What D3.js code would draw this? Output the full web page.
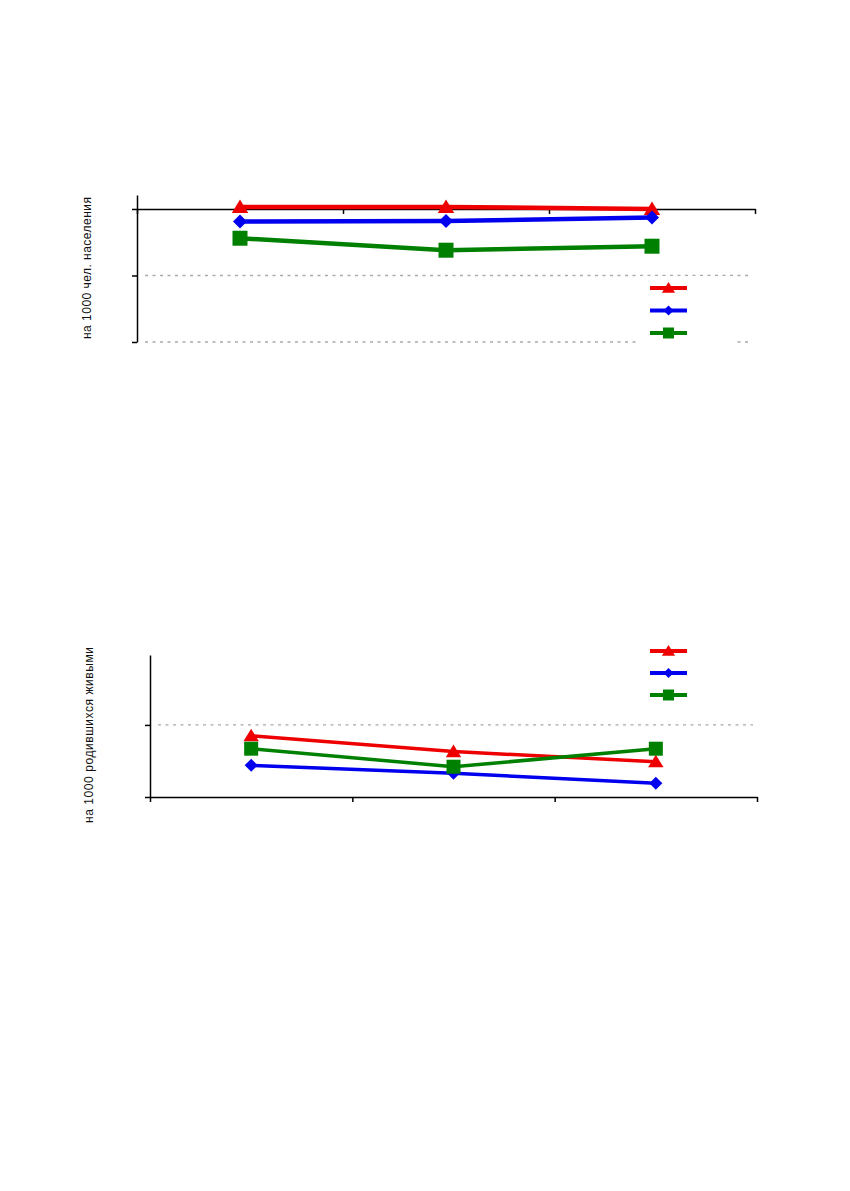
<!DOCTYPE html>
<html>
<head>
<meta charset="utf-8">
<title>Charts</title>
<style>
body { margin: 0; background: #fff; font-family: "Liberation Sans", Arial, sans-serif; }
</style>
</head>
<body>
<div id="chart"></div>
<script src="https://d3js.org/d3.v7.min.js"></script>
<script>
// categories (labels not shown in the picture)
const years = ["A", "B", "C"];

// chart 1: на 1000 чел. населения
const top1Red = [0.15, 0.15, 0.0];
const top1Blue = [-0.95, -0.9, -0.65];
const top1Green = [-2.2, -3.1, -2.8];
const top1Ticks = [-10, -5, 0];

// chart 2: на 1000 родившихся живыми
const bot2Red = [8.5, 6.3, 4.9];
const bot2Blue = [4.4, 3.3, 1.9];
const bot2Green = [6.7, 4.2, 6.7];
const bot2Ticks = [0, 10];

const width = 850;
const height = 1191;

const svg = d3.select("#chart")
  .append("svg")
  .attr("width", width)
  .attr("height", height);

svg.append("rect")
    .attr("width", width)
    .attr("height", height)
    .attr("fill", "#fff");

const RED = "#ee0000", BLUE = "#0000ee", GREEN = "#008000";

// s = half size of marker
function marker(g, type, x, y, s, color) {
  let d;
  if (type === "tri") d = `M0,${-s}L${s * 1.1},${s * 0.8}L${-s * 1.1},${s * 0.8}Z`;
  else if (type === "dia") d = `M0,${-s}L${s},0L0,${s}L${-s},0Z`;
  else d = `M${-s},${-s}H${s}V${s}H${-s}Z`;
  g.append("path")
    .attr("d", d)
    .attr("transform", `translate(${x},${y})`)
    .attr("fill", color);
}

function drawChart(opt) {
  const g = svg.append("g");
  const x = d3.scaleBand().domain(years).range([opt.x0, opt.x1]);
  const y = d3.scaleLinear().domain(opt.domain).range([opt.yBottom, opt.yTop]);

  // dotted gridlines
  opt.grid.forEach(v => {
    g.append("line")
      .attr("x1", opt.x0 + 8).attr("x2", opt.x1 - 4)
      .attr("y1", y(v)).attr("y2", y(v))
      .attr("stroke", "#aaaaaa")
      .attr("stroke-width", 1.3)
      .attr("stroke-dasharray", "3,4.5");
  });

  // legend box (blank labels)
  const leg = g.append("g").attr("transform", `translate(${opt.legX},${opt.legY})`);
  leg.append("rect")
    .attr("x", -10).attr("y", -12)
    .attr("width", 97).attr("height", 70)
    .attr("fill", "#fff");

  // y axis
  const yAxis = d3.axisLeft(y).tickValues(opt.ticks).tickSize(5).tickSizeOuter(0).tickFormat("");
  g.append("g")
    .attr("transform", `translate(${opt.x0},0)`)
    .call(yAxis)
    .call(s => s.select(".domain").attr("stroke", "#000").attr("stroke-width", 1.5))
    .call(s => s.selectAll(".tick line").attr("stroke", "#000").attr("stroke-width", 1.5));

  // x axis
  const xPos = d3.scaleLinear().domain([0, years.length]).range([opt.x0, opt.x1]);
  const xAxis = d3.axisBottom(xPos).tickValues(d3.range(years.length + 1)).tickSize(5).tickSizeOuter(0).tickFormat("");
  g.append("g")
    .attr("transform", `translate(0,${y(opt.xAt)})`)
    .call(xAxis)
    .call(s => s.select(".domain").attr("stroke", "#000").attr("stroke-width", 1.5))
    .call(s => s.selectAll(".tick line").attr("stroke", "#000").attr("stroke-width", 1.5));

  const line = d3.line()
    .x((d, i) => x(years[i]) + x.bandwidth() / 2)
    .y(d => y(d));

  opt.series.forEach(sr => {
    g.append("path")
      .datum(sr.values)
      .attr("d", line)
      .attr("fill", "none")
      .attr("stroke", sr.color)
      .attr("stroke-width", opt.lw);
    sr.values.forEach((v, i) => {
      marker(g, sr.type, x(years[i]) + x.bandwidth() / 2, y(v), opt.ms[sr.type], sr.color);
    });
  });

  // legend entries
  opt.series.forEach((sr, i) => {
    const ly = i * opt.legStep;
    leg.append("line")
      .attr("x1", 0).attr("x2", 37)
      .attr("y1", ly).attr("y2", ly)
      .attr("stroke", sr.color)
      .attr("stroke-width", 4);
    marker(leg, sr.type, 18.5, ly, opt.lms[sr.type], sr.color);
  });

  // y title
  g.append("text")
    .attr("transform", `translate(${opt.titleX},${opt.titleY}) rotate(-90)`)
    .attr("text-anchor", "middle")
    .attr("font-size", 12)
    .attr("textLength", opt.titleLen)
    .attr("lengthAdjust", "spacing")
    .attr("fill", "#111")
    .text(opt.title);
}

drawChart({
  x0: 137, x1: 755, yTop: 195, yBottom: 342,
  domain: [-10, 1.05], ticks: top1Ticks, grid: [-5, -10], xAt: 0,
  lw: 4.5, ms: { tri: 7.5, dia: 7, sq: 7.5 }, lms: { tri: 6, dia: 5, sq: 5.5 },
  legX: 650, legY: 288, legStep: 22.5,
  series: [
    { values: top1Red, color: RED, type: "tri" },
    { values: top1Blue, color: BLUE, type: "dia" },
    { values: top1Green, color: GREEN, type: "sq" }
  ],
  title: "на 1000 чел. населения", titleX: 91, titleY: 268, titleLen: 142
});

drawChart({
  x0: 150, x1: 757, yTop: 655, yBottom: 797,
  domain: [0, 19.7], ticks: bot2Ticks, grid: [10], xAt: 0,
  lw: 3.5, ms: { tri: 7, dia: 6.5, sq: 7 }, lms: { tri: 6, dia: 5, sq: 5.5 },
  legX: 650, legY: 651, legStep: 22,
  series: [
    { values: bot2Red, color: RED, type: "tri" },
    { values: bot2Blue, color: BLUE, type: "dia" },
    { values: bot2Green, color: GREEN, type: "sq" }
  ],
  title: "на 1000 родившихся живыми", titleX: 93, titleY: 735, titleLen: 176
});
</script>
</body>
</html>
